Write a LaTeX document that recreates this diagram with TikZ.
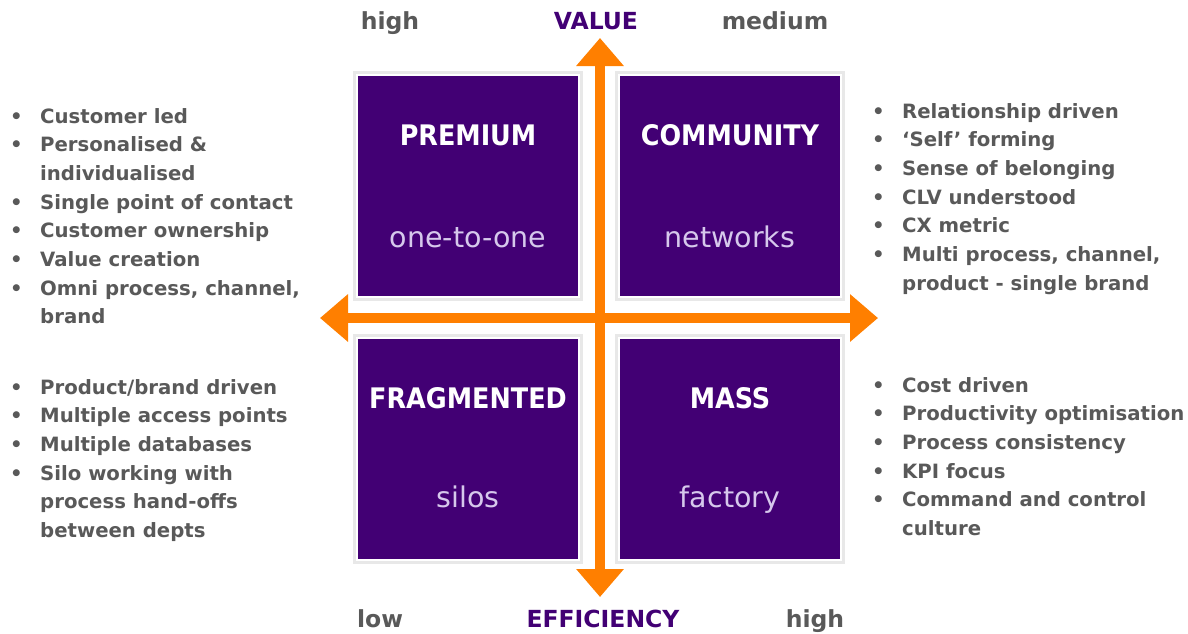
\documentclass[tikz,border=0pt]{standalone}
\usepackage{fontspec}
\setmainfont{DejaVu Sans}
\newfontfamily\condensedfont{DejaVu Sans Condensed}
\usepackage{array}
\usetikzlibrary{arrows.meta}

\definecolor{quadpurple}{RGB}{66,0,116}
\definecolor{axisorange}{RGB}{255,127,0}
\definecolor{listgray}{RGB}{89,89,89}
\definecolor{sublilac}{RGB}{214,200,236}

\tikzset{
  quad/.style={fill=quadpurple, draw=white, line width=1.5pt,
    minimum width=222pt, minimum height=222pt, inner sep=0pt,
    preaction={draw=black!9, line width=8pt}},
  quadtitle/.style={text=white, font=\condensedfont\bfseries\fontsize{28.3}{30}\selectfont, anchor=base},
  quadsub/.style={text=sublilac, font=\fontsize{28.5}{30}\selectfont, anchor=base},
  axislbl/.style={text=listgray, font=\bfseries\fontsize{23.5}{28}\selectfont, anchor=base},
  axisname/.style={axislbl, text=quadpurple},
  bullets/.style={text=listgray, font=\bfseries\fontsize{19.7}{28.7}\selectfont,
    anchor=base west, inner sep=0pt},
  axis/.style={draw=axisorange, line width=10pt,
    {Triangle[width=46pt,length=28pt]}-{Triangle[width=46pt,length=28pt]}}
}

\begin{document}
\begin{tikzpicture}[x=1pt, y=-1pt]
    \useasboundingbox (0,0) rectangle (1188,633);

    % the four quadrants
    \node[quad] (premium) at (468,186) {};
    \node[quad] (community) at (730,186) {};
    \node[quad] (fragmented) at (468,449) {};
    \node[quad] (mass) at (730,449) {};

    \node[quadtitle] (premiumtitle) at (468,145) {PREMIUM};
    \node[quadsub] (premiumsub) at (468,247) {one-to-one};
    \node[quadtitle] (communitytitle) at (730,145) {COMMUNITY};
    \node[quadsub] (communitysub) at (730,247) {networks};
    \node[quadtitle] (fragmentedtitle) at (468,408) {FRAGMENTED};
    \node[quadsub] (fragmentedsub) at (468,507) {silos};
    \node[quadtitle] (masstitle) at (730,408) {MASS};
    \node[quadsub] (masssub) at (730,507) {factory};

    % axes
    \coordinate (vtop) at (600,38);
    \coordinate (vbot) at (600,597);
    \coordinate (hleft) at (320,318);
    \coordinate (hright) at (878,318);
    \draw[axis] (vtop) -- (vbot);
    \draw[axis] (hleft) -- (hright);

    \node[axislbl] (tophigh) at (390,29) {high};
    \node[axisname] (value) at (596,29) {VALUE};
    \node[axislbl] (topmedium) at (775,29) {medium};
    \node[axislbl] (botlow) at (380,627) {low};
    \node[axisname] (efficiency) at (603,627) {EFFICIENCY};
    \node[axislbl] (bothigh) at (815,627) {high};

    % bullet lists
    \node[bullets] (premiumlist) at (10,123) {%
      \begin{tabular}[t]{@{}p{30pt}@{}l@{}}
        \textbullet & Customer led\\
        \textbullet & Personalised \&\\
                    & individualised\\
        \textbullet & Single point of contact\\
        \textbullet & Customer ownership\\
        \textbullet & Value creation\\
        \textbullet & Omni process, channel,\\
                    & brand
      \end{tabular}};

    \node[bullets] (communitylist) at (872,118) {%
      \begin{tabular}[t]{@{}p{30pt}@{}l@{}}
        \textbullet & Relationship driven\\
        \textbullet & `Self' forming\\
        \textbullet & Sense of belonging\\
        \textbullet & CLV understood\\
        \textbullet & CX metric\\
        \textbullet & Multi process, channel,\\
                    & product - single brand
      \end{tabular}};

    \node[bullets] (fragmentedlist) at (10,394) {%
      \begin{tabular}[t]{@{}p{30pt}@{}l@{}}
        \textbullet & Product/brand driven\\
        \textbullet & Multiple access points\\
        \textbullet & Multiple databases\\
        \textbullet & Silo working with\\
                    & process hand-offs\\
                    & between depts
      \end{tabular}};

    \node[bullets] (masslist) at (872,392) {%
      \begin{tabular}[t]{@{}p{30pt}@{}l@{}}
        \textbullet & Cost driven\\
        \textbullet & Productivity optimisation\\
        \textbullet & Process consistency\\
        \textbullet & KPI focus\\
        \textbullet & Command and control\\
                    & culture
      \end{tabular}};
\end{tikzpicture}
\end{document}
